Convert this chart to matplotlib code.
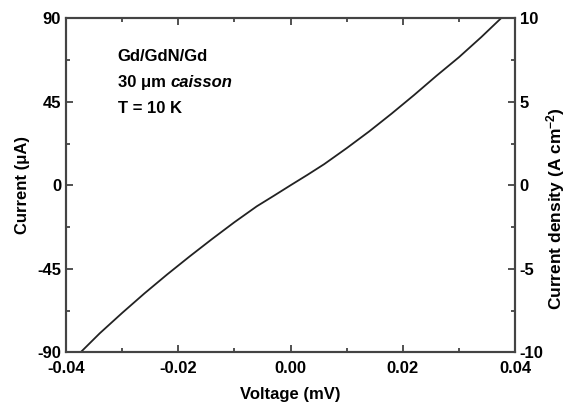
import matplotlib
matplotlib.use("Agg")
import matplotlib.pyplot as plt
from matplotlib.ticker import MultipleLocator

plt.rcParams['font.family'] = ['Liberation Sans', 'DejaVu Sans']
plt.rcParams['font.weight'] = 'bold'
plt.rcParams['axes.unicode_minus'] = False
plt.rcParams['mathtext.fontset'] = 'custom'
plt.rcParams['mathtext.rm'] = 'Liberation Sans:bold'
plt.rcParams['mathtext.bf'] = 'Liberation Sans:bold'
plt.rcParams['mathtext.default'] = 'bf'

voltage_mV = [-0.0374, -0.034, -0.030, -0.026, -0.022, -0.018, -0.014, -0.010,
              -0.006, -0.003, 0.000, 0.003, 0.006, 0.010, 0.014, 0.018,
              0.022, 0.026, 0.030, 0.034, 0.0375]
current_uA = [-90.0, -79.8, -68.8, -58.2, -48.1, -38.4, -29.0, -19.9,
              -11.3, -5.7, 0.0, 5.6, 11.4, 20.0, 29.0, 38.6,
              48.6, 59.0, 69.0, 79.9, 90.0]

xticks = [-0.04, -0.02, 0.00, 0.02, 0.04]
xticklabels = ['-0.04', '-0.02', '0.00', '0.02', '0.04']
yticks_left = [-90, -45, 0, 45, 90]
yticks_right = [-10, -5, 0, 5, 10]
sample_line = 'Gd/GdN/Gd'
size_line = '30 \u03bcm '
size_word = 'caisson'
temp_line = 'T = 10 K'

FS = 12

fig = plt.figure(figsize=(5.68, 4.07), dpi=100)
ax = fig.add_axes([0.1162, 0.1344, 0.7905, 0.8206])
ax.plot(voltage_mV, current_uA, color='#222222', lw=1.3)
ax.set_xlim(-0.04, 0.04)
ax.set_ylim(-90, 90)
ax.set_xticks(xticks)
ax.set_xticklabels(xticklabels)
ax.set_yticks(yticks_left)
ax.set_yticklabels([str(v) for v in yticks_left])
ax.xaxis.set_minor_locator(MultipleLocator(0.01))
ax.yaxis.set_minor_locator(MultipleLocator(22.5))
ax.tick_params(which='both', direction='in', top=True, right=False, labelsize=FS,
               colors='#333333', labelcolor='black', width=1.2)
ax.tick_params(which='major', length=5)
ax.tick_params(which='minor', length=3)
ax.tick_params(axis='x', pad=6.5)
for s in ax.spines.values():
    s.set_linewidth(1.5)
    s.set_color('#444444')
ax.set_xlabel('Voltage (mV)', fontsize=FS, fontweight='bold')
ax.xaxis.set_label_coords(0.5, -0.104)
ax.set_ylabel('Current (\u03bcA)', fontsize=FS, fontweight='bold')
ax.yaxis.set_label_coords(-0.080, 0.5)

ax2 = ax.twinx()
ax2.set_ylim(-10, 10)
ax2.set_yticks(yticks_right)
ax2.set_yticklabels([str(v) for v in yticks_right])
ax2.yaxis.set_minor_locator(MultipleLocator(2.5))
ax2.tick_params(which='both', direction='in', labelsize=FS, colors='#333333',
                labelcolor='black', width=1.2)
ax2.tick_params(which='major', length=5)
ax2.tick_params(which='minor', length=3)
for s in ax2.spines.values():
    s.set_linewidth(1.5)
    s.set_color('#444444')
ax2.set_ylabel(r'Current density (A cm$^{-2}$)', fontsize=12.5, fontweight='bold')
ax2.yaxis.set_label_coords(1.064, 0.43)

t1 = ax.text(0.115, 0.885, sample_line, transform=ax.transAxes, fontsize=FS,
             fontweight='bold', va='center', ha='left')
t2 = ax.text(0.115, 0.807, size_line, transform=ax.transAxes, fontsize=FS,
             fontweight='bold', va='center', ha='left')
ax.annotate(size_word, xy=(1, 0.5), xycoords=t2, fontsize=FS, fontweight='bold',
            fontstyle='italic', va='center', ha='left')
ax.text(0.115, 0.729, temp_line, transform=ax.transAxes, fontsize=FS,
        fontweight='bold', va='center', ha='left')

fig.savefig('out.png', dpi=100)
